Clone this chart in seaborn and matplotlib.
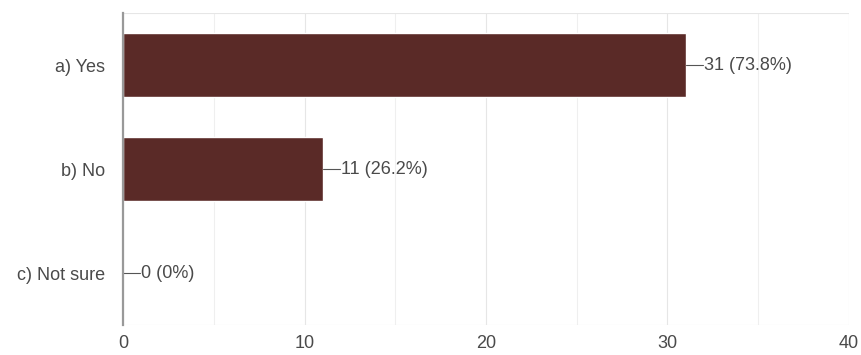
import matplotlib
matplotlib.use("Agg")
import matplotlib.pyplot as plt
import seaborn as sns
import pandas as pd

categories = ["a) Yes", "b) No", "c) Not sure"]
counts = [31, 11, 0]
percents = ["73.8%", "26.2%", "0%"]
x_ticks = [0, 10, 20, 30, 40]

sns.set_theme(style="white")
plt.rcParams['font.family'] = ['Liberation Sans', 'DejaVu Sans']

df = pd.DataFrame({"cat": categories, "n": counts})

fig = plt.figure(figsize=(8.61, 3.55), dpi=100)
ax = fig.add_axes([0.1429, 0.0845, 0.986 - 0.1429, 0.963 - 0.0845])

# grid
for v in range(0, 41, 5):
    ax.axvline(v, color="#efefef" if v % 10 else "#e6e6e6", lw=0.8, zorder=0)
ax.axhline(-0.5, color="#e6e6e6", lw=0.8, zorder=0)
ax.axhline(2.5, color="#e6e6e6", lw=0.8, zorder=0)

sns.barplot(data=df, x="n", y="cat", orient="h", color="#5a2a27",
            width=0.61, saturation=1, ax=ax, zorder=2)

for i, (n, p) in enumerate(zip(counts, percents)):
    ax.plot([n, n + 0.95], [i, i], color="#555555", lw=0.8, zorder=3)
    ax.text(n + 1.0, i, f"{n} ({p})", va="center", ha="left",
            fontsize=13, color="#4a4a4a", zorder=3)

ax.set_xlim(0, 40)
ax.set_ylim(2.5, -0.5)
ax.set_xticks(x_ticks)
ax.set_xticklabels([str(t) for t in x_ticks])
ax.set_xlabel("")
ax.set_ylabel("")
for s in ["top", "right", "bottom"]:
    ax.spines[s].set_visible(False)
ax.spines["left"].set_color("#999999")
ax.spines["left"].set_linewidth(1.6)
ax.spines["left"].set_zorder(4)
ax.tick_params(axis="both", length=0, labelsize=13, colors="#4a4a4a")
ax.tick_params(axis="y", pad=13)
ax.tick_params(axis="x", pad=7)

fig.savefig("out.png", dpi=100)
